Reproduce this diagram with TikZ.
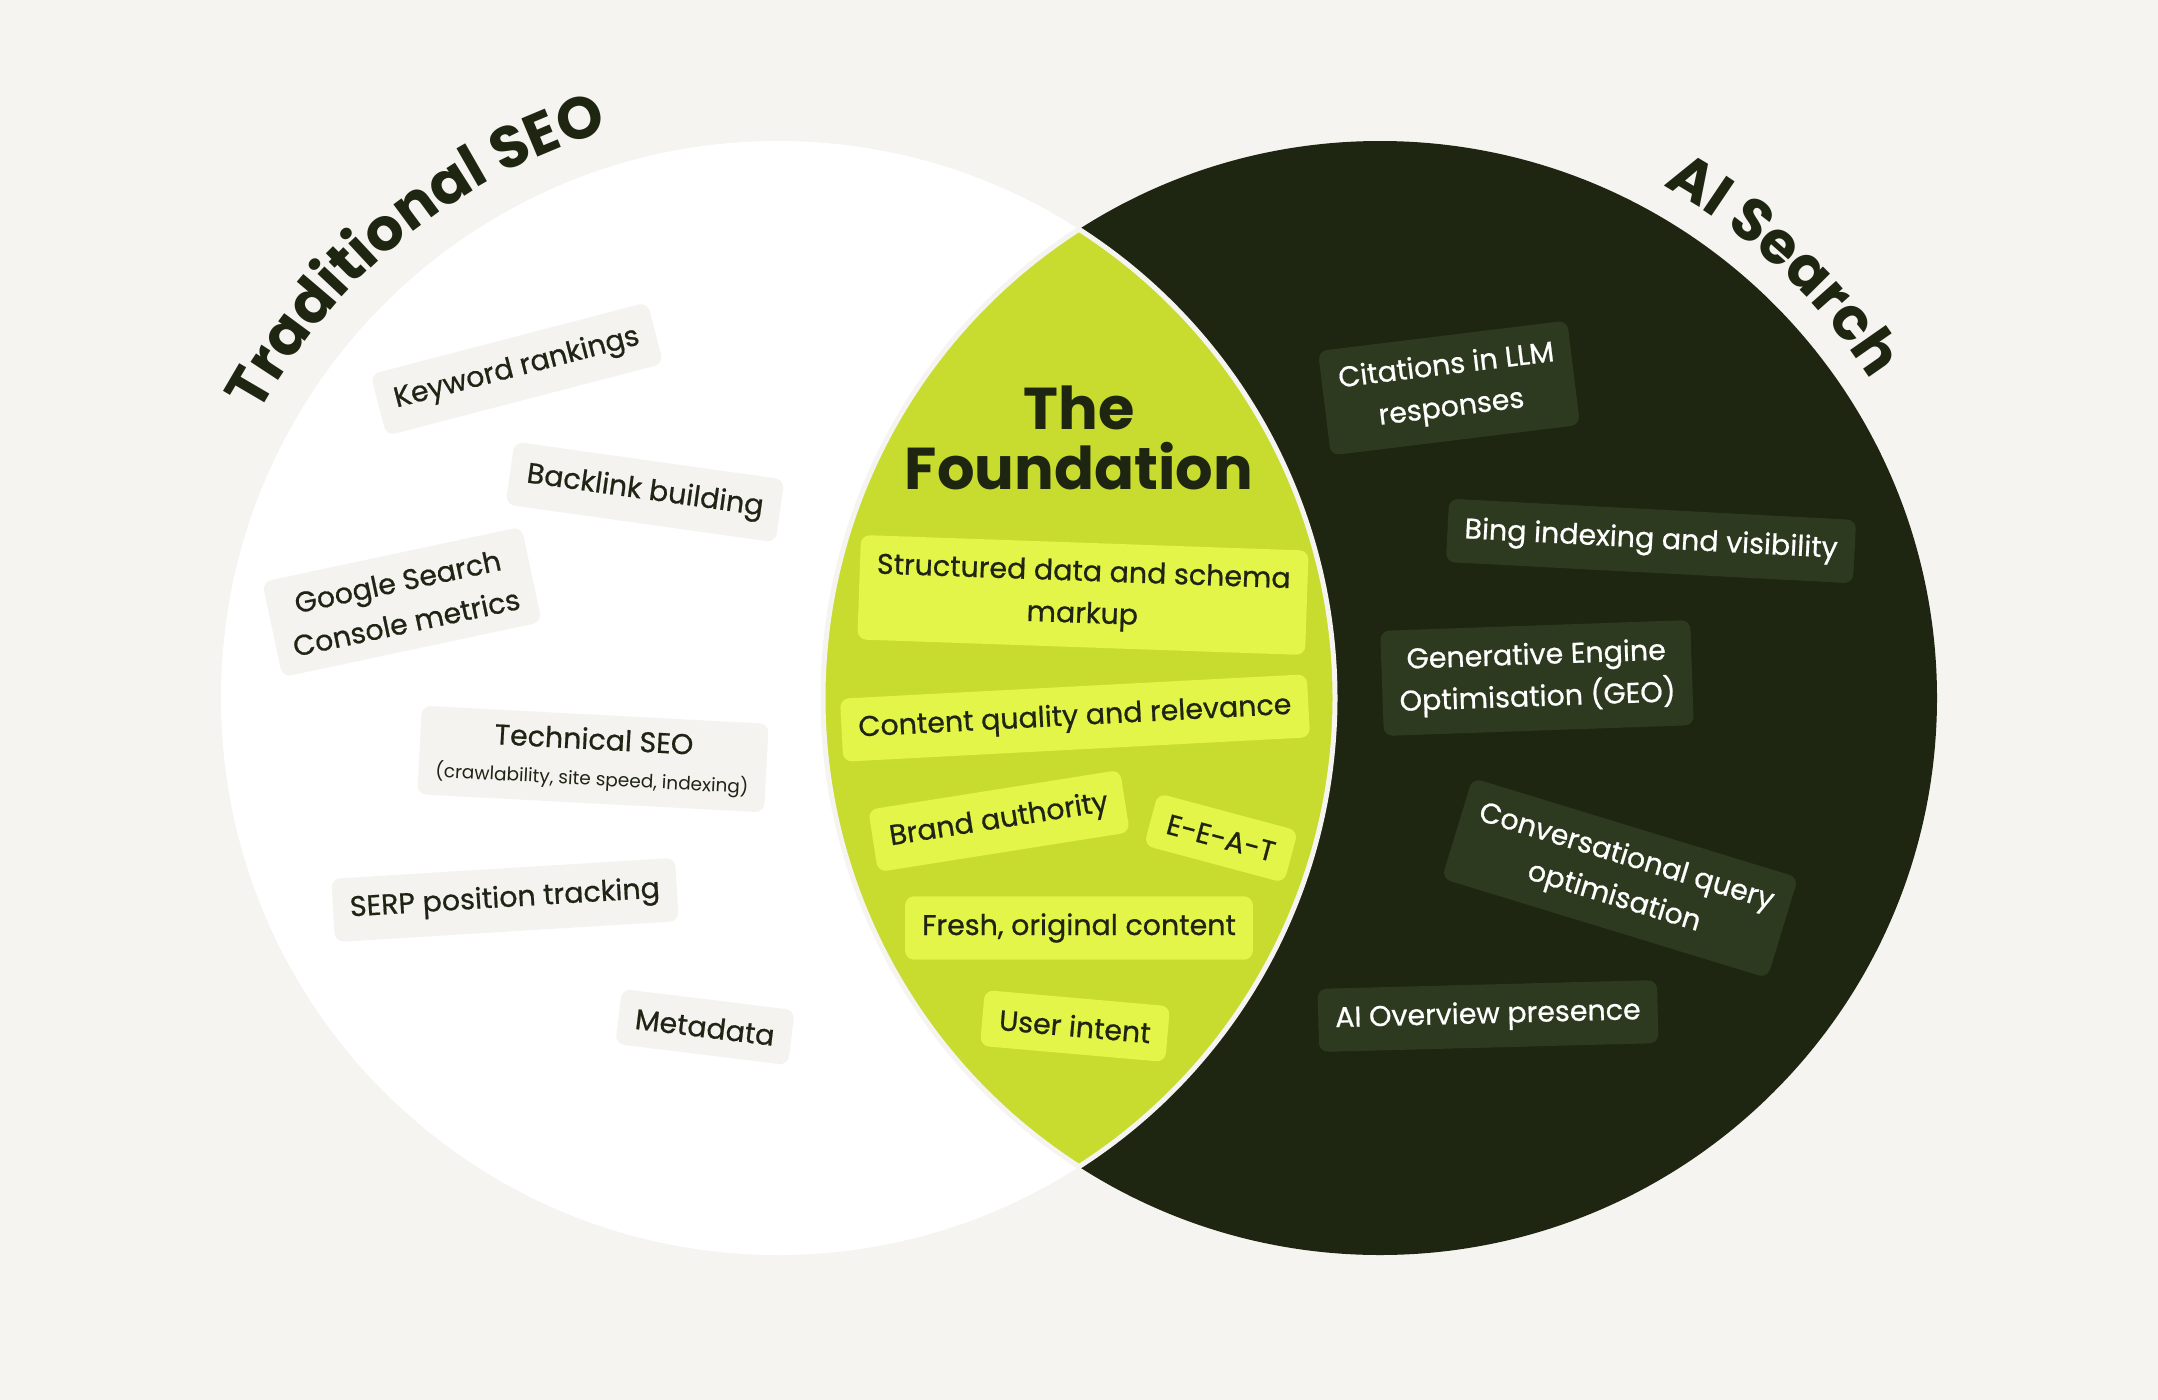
\documentclass[tikz,border=0pt]{standalone}
\usepackage{fontspec}
\setmainfont{Poppins}
\newfontfamily\tagfam{Poppins}[FakeBold=0.7]
\usetikzlibrary{decorations.text}
\definecolor{bgcol}{HTML}{F5F4F0}
\definecolor{darkcol}{HTML}{1E2611}
\definecolor{limecol}{HTML}{C8DB2F}
\definecolor{limebox}{HTML}{E2F548}
\definecolor{darkbox}{HTML}{2E3A1F}
\definecolor{lightbox}{HTML}{F4F3EF}
\definecolor{inkcol}{HTML}{1F2414}
\newcommand{\titlefont}{\fontsize{59}{60}\selectfont\bfseries}
\newcommand{\tagfont}{\tagfam\fontsize{28.5}{42}\selectfont}
\newcommand{\notefont}{\rmfamily\fontsize{18.5}{22}\selectfont}
\begin{document}
\begin{tikzpicture}[x=1pt,y=1pt,
    tag/.style={rounded corners=9pt,inner xsep=17pt,inner ysep=17pt,
      align=center,font=\tagfont},
    seotag/.style={tag,fill=lightbox,text=inkcol},
    basetag/.style={tag,fill=limebox,text=inkcol},
    aitag/.style={tag,fill=darkbox,text=white}]
  \fill[bgcol] (0,0) rectangle (2158,-1400);
  \useasboundingbox (0,0) rectangle (2158,-1400);
  % the two circles
  \fill[white] (778,-698) circle[radius=557];
  \fill[darkcol] (1380,-698) circle[radius=557];
  % overlap
  \filldraw[fill=limecol,draw=bgcol,line width=5pt]
    (1079,-229.3) arc[start angle=57.29,end angle=-57.29,radius=557]
    arc[start angle=237.29,end angle=122.71,radius=557] -- cycle;
  % titles
  \path[decorate,decoration={text along path,text align=center,
      text color=darkcol,text={|\titlefont|Traditional SEO}}]
    (778,-698) ++(160:592) arc[start angle=160,end angle=98,radius=592];
  \path[decorate,decoration={text along path,text align=center,
      text color=darkcol,text={|\titlefont|AI Search}}]
    (1380,-698) ++(77:585) arc[start angle=77,end angle=17,radius=585];
  % traditional seo
  \node[seotag,rotate=14.6] (keyword) at (517,-369) {Keyword rankings};
  \node[seotag,rotate=-8] (backlink) at (645,-492) {Backlink building};
  \node[seotag,rotate=12] (console) at (402,-602) {Google Search\\Console metrics};
  \node[seotag,rotate=-3,inner ysep=13pt] (technical) at (593,-759)
    {Technical SEO\\[-6pt]{\notefont (crawlability, site speed, indexing)}};
  \node[seotag,rotate=3.5] (serp) at (505,-900) {SERP position tracking};
  \node[seotag,rotate=-7] (metadata) at (705,-1027) {Metadata};
  % foundation
  \node[font=\fontsize{59}{60}\selectfont\bfseries,text=darkcol,align=center]
    (foundation) at (1079,-438) {The\\Foundation};
  \node[basetag,rotate=-2] (schema) at (1083,-595) {Structured data and schema\\markup};
  \node[basetag,rotate=3] (quality) at (1075,-718) {Content quality and relevance};
  \node[basetag,rotate=9] (brand) at (999,-821) {Brand authority};
  \node[basetag,rotate=-15] (eeat) at (1221,-838) {E-E-A-T};
  \node[basetag] (fresh) at (1079,-928) {Fresh, original content};
  \node[basetag,rotate=-5] (intent) at (1075,-1026) {User intent};
  % ai search
  \node[aitag,rotate=7] (citations) at (1449,-388) {Citations in LLM\\responses};
  \node[aitag,rotate=-3] (bing) at (1651,-541) {Bing indexing and visibility};
  \node[aitag,rotate=2] (geo) at (1537,-678) {Generative Engine\\Optimisation (GEO)};
  \node[aitag,rotate=-17] (conversational) at (1620,-878) {Conversational query\\optimisation};
  \node[aitag,rotate=1.5] (overview) at (1488,-1016) {AI Overview presence};
\end{tikzpicture}
\end{document}
